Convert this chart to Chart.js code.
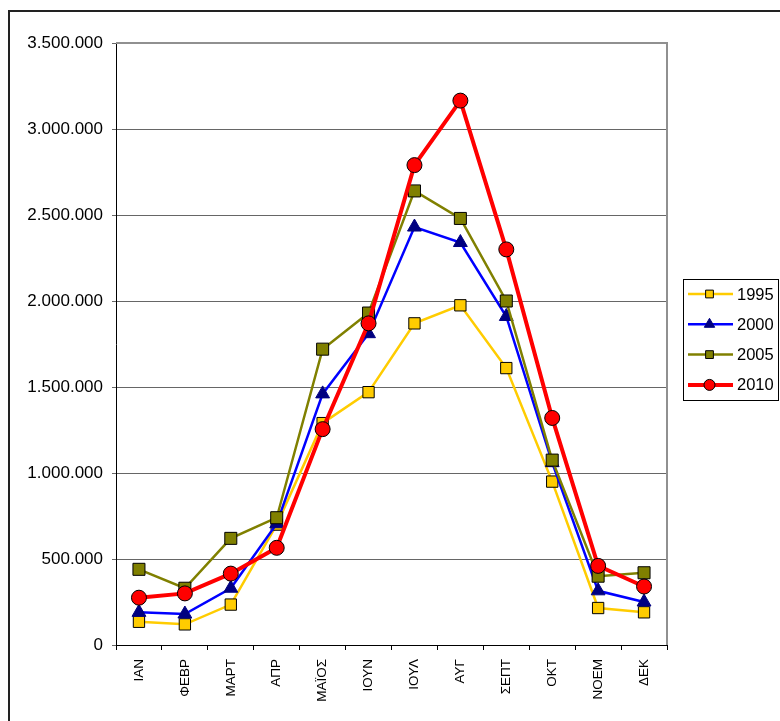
<!DOCTYPE html>
<html>
<head>
<meta charset="utf-8">
<script src="https://cdn.jsdelivr.net/npm/chart.js@4"></script>
<style>
  html, body { margin: 0; padding: 0; background: #fff; overflow: hidden; }
  #frame { position: absolute; left: 8px; top: 10px; width: 900px; height: 900px;
           border-left: 2px solid #222; border-top: 2px solid #222; }
  #c { position: absolute; left: 0; top: 0; }
</style>
</head>
<body>
<div id="frame"></div>
<canvas id="c" width="780" height="721"></canvas>
<script>
const months = ['ΙΑΝ','ΦΕΒΡ','ΜΑΡΤ','ΑΠΡ','ΜΑΪΟΣ','ΙΟΥΝ','ΙΟΥΛ','ΑΥΓ','ΣΕΠΤ','ΟΚΤ','ΝΟΕΜ','ΔΕΚ'];
const seriesNames = ['1995','2000','2005','2010'];
const v1995 = [135000,120000,235000,700000,1290000,1470000,1870000,1975000,1610000,950000,215000,190000];
const v2000 = [190000,180000,330000,705000,1460000,1810000,2430000,2340000,1910000,1060000,315000,250000];
const v2005 = [440000,330000,620000,740000,1720000,1930000,2640000,2480000,2000000,1075000,400000,420000];
const v2010 = [275000,300000,415000,565000,1255000,1870000,2790000,3165000,2300000,1320000,460000,340000];
const yMin = 0, yMax = 3500000, yStep = 500000;

const FONT = '"Liberation Sans", Arial, sans-serif';
function fmt(v) { return String(v).replace(/\B(?=(\d{3})+(?!\d))/g, '.'); }

const styles = [
  { line: '#FFCC00', fill: '#FFCC00', border: '#000', shape: 'rect', r: 8, w: 2.5 },
  { line: '#0000FF', fill: '#000080', border: '#000080', shape: 'triangle', r: 8, w: 2.5 },
  { line: '#808000', fill: '#808000', border: '#000', shape: 'rect', r: 8.5, w: 2.5 },
  { line: '#FF0000', fill: '#FF0000', border: '#000', shape: 'circle', r: 7.5, w: 4 }
];
const allValues = [v1995, v2000, v2005, v2010];

const datasets = allValues.map((vals, i) => ({
  label: seriesNames[i],
  data: vals,
  borderColor: styles[i].line,
  borderWidth: styles[i].w,
  backgroundColor: styles[i].fill,
  pointBackgroundColor: styles[i].fill,
  pointBorderColor: styles[i].border,
  pointBorderWidth: 1,
  pointStyle: styles[i].shape,
  pointRadius: styles[i].r,
  tension: 0,
  fill: false,
  order: 4 - i
}));

function drawMarker(ctx, shape, x, y, r, fill, stroke) {
  ctx.save();
  ctx.fillStyle = fill; ctx.strokeStyle = stroke; ctx.lineWidth = 1;
  ctx.beginPath();
  if (shape === 'rect') {
    const s = Math.SQRT1_2 * r;
    ctx.rect(x - s, y - s, 2 * s, 2 * s);
  } else if (shape === 'triangle') {
    let a = 0;
    ctx.moveTo(x + Math.sin(a) * r, y - Math.cos(a) * r);
    a += 2 * Math.PI / 3;
    ctx.lineTo(x + Math.sin(a) * r, y - Math.cos(a) * r);
    a += 2 * Math.PI / 3;
    ctx.lineTo(x + Math.sin(a) * r, y - Math.cos(a) * r);
    ctx.closePath();
  } else {
    ctx.arc(x, y, r, 0, Math.PI * 2);
  }
  ctx.fill(); ctx.stroke();
  ctx.restore();
}

const plotBorder = {
  id: 'plotBorder',
  beforeDatasetsDraw(chart) {
    const a = chart.chartArea, ctx = chart.ctx;
    ctx.save();
    ctx.strokeStyle = '#909090';
    ctx.lineWidth = 2;
    ctx.beginPath();
    ctx.moveTo(a.left, a.top);
    ctx.lineTo(a.right, a.top);
    ctx.lineTo(a.right, a.bottom);
    ctx.stroke();
    ctx.restore();
  }
};

const boxLegend = {
  id: 'boxLegend',
  afterDraw(chart) {
    const ctx = chart.ctx;
    const bx = 683, by = 279, bw = 96, bh = 122;
    ctx.save();
    ctx.fillStyle = '#fff';
    ctx.fillRect(bx, by, bw, bh);
    ctx.strokeStyle = '#000';
    ctx.lineWidth = 1;
    ctx.strokeRect(bx + 0.5, by + 0.5, bw - 1, bh - 1);
    ctx.font = '16.5px ' + FONT;
    ctx.textBaseline = 'middle';
    ctx.textAlign = 'left';
    chart.data.datasets.forEach((ds, i) => {
      const st = styles[i];
      const y = by + 15 + i * 30.3;
      ctx.strokeStyle = st.line;
      ctx.lineWidth = st.w;
      ctx.beginPath();
      ctx.moveTo(688, y); ctx.lineTo(733, y);
      ctx.stroke();
      drawMarker(ctx, st.shape, 709.5, y, st.shape === 'triangle' ? 6 : 5.5, st.fill, st.border);
      ctx.fillStyle = '#000';
      ctx.fillText(ds.label, 737, y + 1);
    });
    ctx.restore();
  }
};

new Chart(document.getElementById('c'), {
  type: 'line',
  data: { labels: months, datasets: datasets },
  options: {
    responsive: false,
    animation: false,
    events: [],
    layout: { padding: { left: 0, top: 43, right: 113, bottom: 0 } },
    plugins: { legend: { display: false }, tooltip: { enabled: false } },
    scales: {
      x: {
        type: 'category',
        offset: true,
        afterFit(s) { s.height = 76; },
        grid: { offset: true, drawOnChartArea: false, drawTicks: true, tickLength: 5, color: '#000' },
        border: { color: '#000', width: 1 },
        ticks: {
          autoSkip: false, minRotation: 90, maxRotation: 90, padding: 9,
          color: '#000', font: { family: FONT, size: 13.5 }
        }
      },
      y: {
        min: yMin, max: yMax,
        afterFit(s) { s.width = 116; },
        grid: { color: '#666', lineWidth: 1, drawTicks: true, tickLength: 4 },
        border: { color: '#000', width: 1 },
        ticks: {
          stepSize: yStep, padding: 9, color: '#000',
          font: { family: FONT, size: 17 },
          callback: (v) => fmt(v)
        }
      }
    }
  },
  plugins: [plotBorder, boxLegend]
});
</script>
</body>
</html>
